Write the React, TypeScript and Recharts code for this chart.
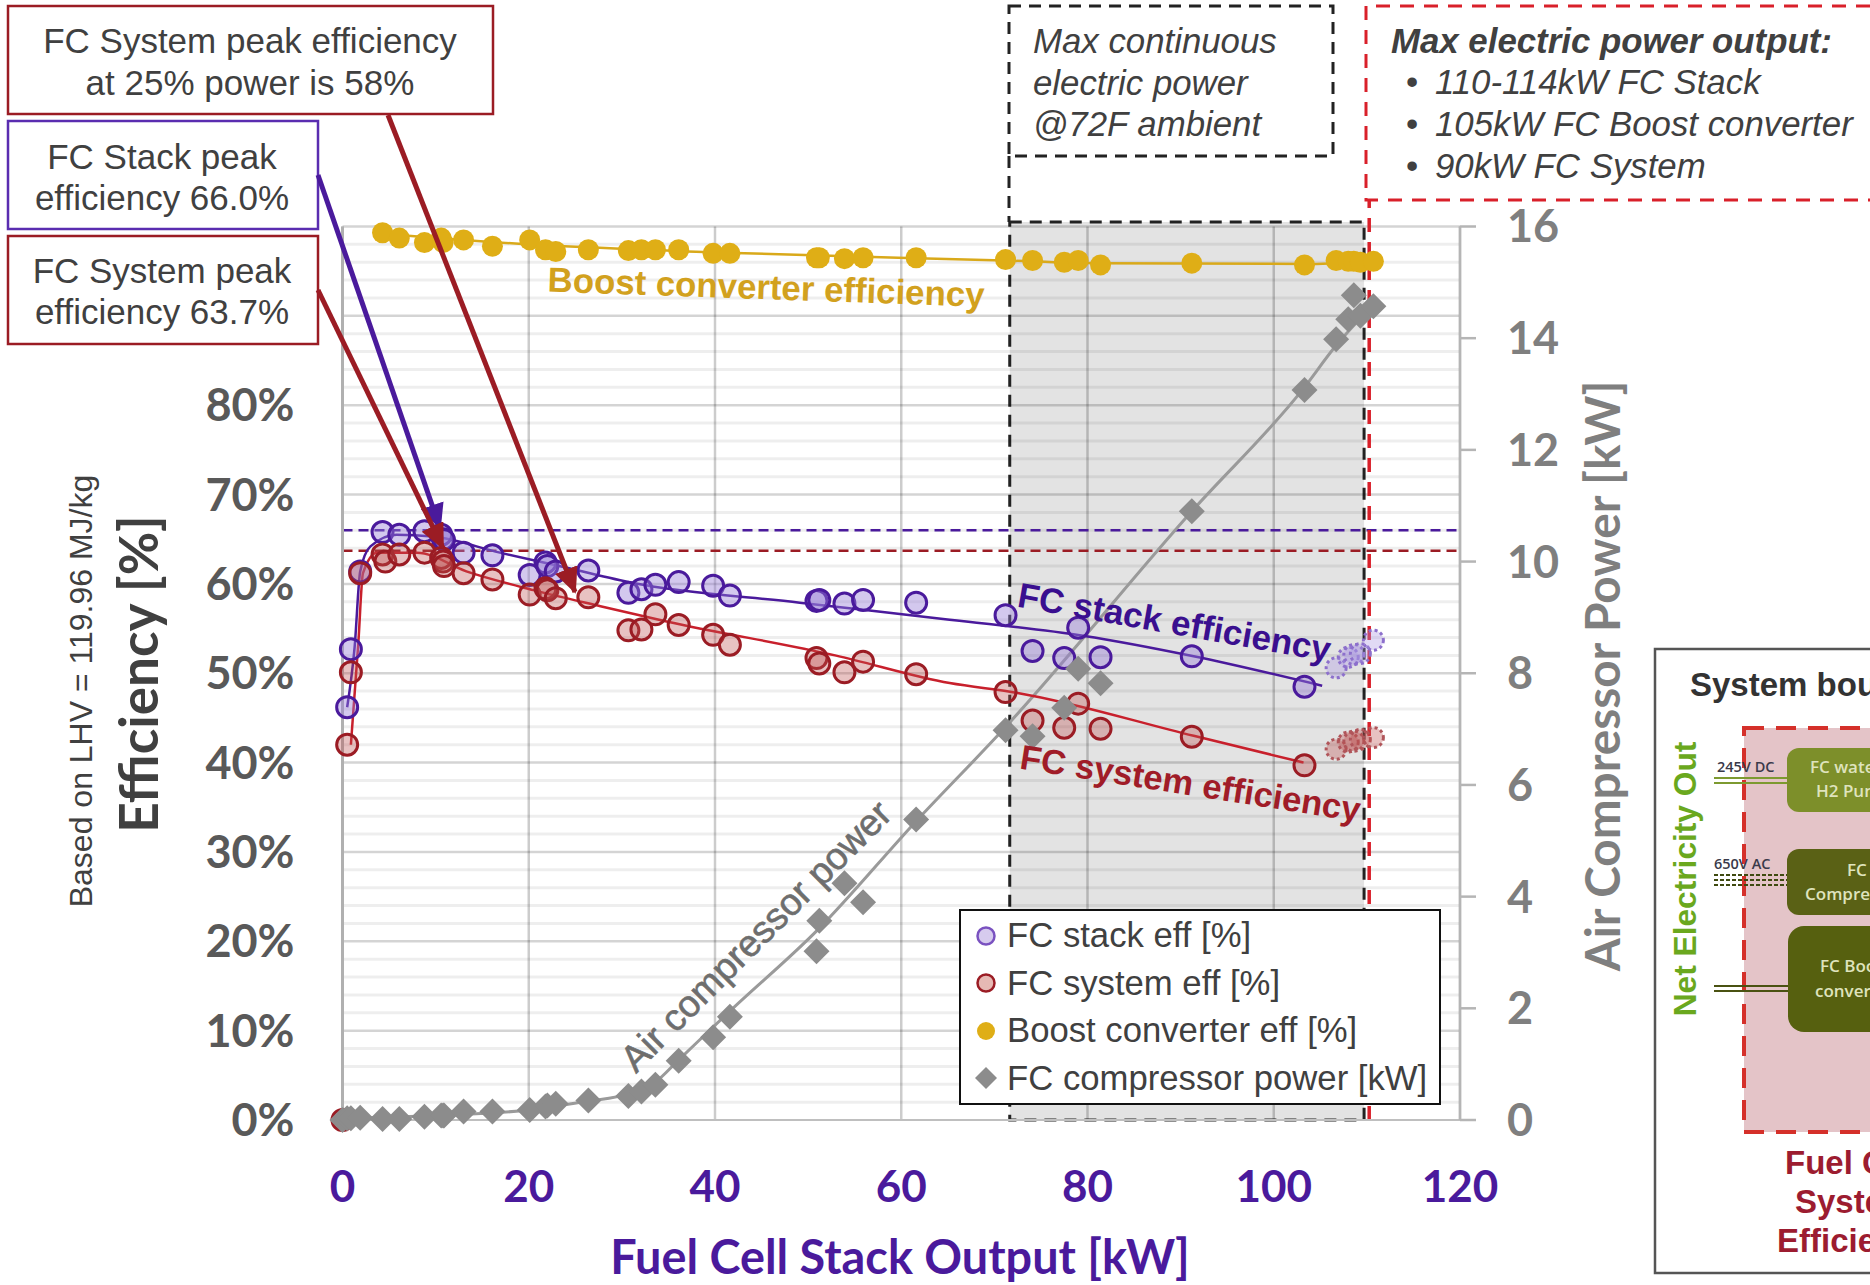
import React from 'react';
import { Legend, ReferenceArea, ReferenceLine, Scatter, ScatterChart, XAxis, YAxis } from 'recharts';

// Test points. null = no visible marker for that series
const powerKw = [0, 0.5, 0.9, 1.9, 4.3, 4.6, 6.1, 8.8, 10.6, 10.8, 10.9, 13.0, 16.1, 20.1, 21.8, 22.0, 22.9, 26.4, 30.7, 32.1, 33.6, 36.1, 39.8, 41.6, 50.9, 51.2, 53.9, 55.9, 61.6, 71.2, 74.1, 77.5, 79.0, 81.4, 91.2, 103.3];
const stackEff = [null, 46.2, 52.7, 61.4, 65.8, null, 65.5, 65.9, 65.5, 65.0, 64.9, 63.5, 63.2, 61.0, 62.4, 62.0, 61.4, 61.5, 59.0, 59.4, 59.9, 60.2, 59.8, 58.7, 58.1, 58.2, 57.8, 58.2, 57.9, 56.5, 52.5, 51.7, 55.1, 51.8, 51.9, 48.5];
const systemEff = [0, 42.0, 50.1, 61.2, 63.3, 62.5, 63.3, 63.5, 62.9, 62.5, 62.0, 61.2, 60.5, 58.8, 59.5, 59.3, 58.4, 58.5, 54.8, 54.9, 56.6, 55.4, 54.3, 53.2, 51.7, 51.1, 50.1, 51.3, 49.9, 47.9, 44.7, 43.9, 46.6, 43.8, 42.9, 39.7];
const boostEff = [null, null, null, null, 99.3, null, 98.7, 98.2, 98.7, 98.2, null, 98.5, 97.8, 98.5, 97.4, null, 97.2, 97.4, 97.3, 97.4, 97.4, 97.4, 97.0, 97.0, 96.5, 96.5, 96.4, 96.5, 96.5, 96.3, 96.2, 96.0, 96.2, 95.7, 95.9, 95.7];
const compressorPower = [0, 0.03, 0.03, 0.04, 0.02, null, 0.02, 0.06, 0.08, 0.08, 0.08, 0.15, 0.15, 0.18, 0.24, 0.26, 0.29, 0.35, 0.43, 0.51, 0.63, 1.06, 1.48, 1.85, 3.02, 3.57, 4.24, 3.9, 5.38, 6.98, 6.87, 7.38, 8.08, 7.82, 10.9, 13.07];

// Points beyond continuous power
const highKw = [106.7, 108.0, 108.6, 109.3, 110.7];
const highStackEff = [50.6, 51.8, 52.1, 52.2, 53.7];
const highSystemEff = [41.5, 42.3, 42.4, 42.6, 42.8];
const highBoostEff = [96.2, 96.1, 96.1, 96.0, 96.1];
const highCompressor = [13.98, 14.34, 14.77, 14.4, 14.57];

// Fitted trend lines
const stackTrendKw = [0.5, 1.3, 1.9, 3, 5.8, 9.7, 16.9, 24.1, 31.2, 49.1, 65.2, 79.5, 91.4, 105.2];
const stackTrendEff = [46.2, 52.9, 61.4, 64.2, 65.5, 65.3, 63.5, 61.8, 60.1, 57.9, 56, 54.2, 51.9, 48.6];
const systemTrendKw = [0.9, 1.7, 2.2, 3.7, 8, 13.3, 20.5, 27.7, 34.8, 52.9, 65.2, 72.5, 91.4, 103.2];
const systemTrendEff = [42, 53.4, 61.2, 63.5, 63.5, 61.4, 59.3, 57.5, 55.8, 52, 48.9, 47.8, 43, 40];
const boostTrendKw = [4.3, 20, 40, 71, 81, 104, 110.7];
const boostTrendEff = [99.2, 98, 97.1, 96.2, 95.9, 95.8, 96.1];
const compressorTrendKw = [0.5, 10, 20, 26, 31, 33.6, 36, 41.6, 51, 61.6, 71, 91.2, 103.2, 106.6, 110.7];
const compressorTrendPower = [0.03, 0.08, 0.18, 0.33, 0.48, 0.68, 1.06, 1.95, 3.4, 5.35, 7, 10.9, 13.1, 13.85, 14.6];

const xTicks = [0, 20, 40, 60, 80, 100, 120];
const effTicks = [0, 10, 20, 30, 40, 50, 60, 70, 80];
const effMajorLines = [10, 20, 30, 40, 50, 60, 70, 80, 90, 100];
const effMinorLines = [2, 4, 6, 8, 12, 14, 16, 18, 22, 24, 26, 28, 32, 34, 36, 38, 42, 44, 46, 48, 52, 54, 56, 58, 62, 64, 66, 68, 72, 74, 76, 78, 82, 84, 86, 88, 92, 94, 96, 98];
const compressorTicks = [0, 2, 4, 6, 8, 10, 12, 14, 16];
const legendOrder = ['FC stack eff [%]', 'FC system eff [%]', 'Boost converter eff [%]', 'FC compressor power [kW]'];

const PURPLE = '#4a1a9c';
const RED = '#9b1c24';
const GOLD = '#dfae16';
const GREY = '#8c8c8c';
const ARIAL = '"Liberation Sans", Arial, sans-serif';
const LATO = 'Lato, sans-serif';

const toPoints = (xs: number[], ys: (number | null)[]) =>
  xs.map((x, i) => ({ x, y: ys[i] })).filter((p) => p.y !== null);

const circleShape = (r: number, fill: string, stroke: string, strokeWidth = 3, dash?: string) => (props: any) => (
  <circle cx={props.cx} cy={props.cy} r={r} fill={fill} stroke={stroke} strokeWidth={strokeWidth} strokeDasharray={dash} />
);

const diamondShape = (d: number, fill: string) => (props: any) => (
  <polygon
    points={`${props.cx},${props.cy - d} ${props.cx + d},${props.cy} ${props.cx},${props.cy + d} ${props.cx - d},${props.cy}`}
    fill={fill}
  />
);

const noDot = () => <g />;

const stackDot = circleShape(10.5, 'rgba(150,125,215,0.42)', PURPLE);
const systemDot = circleShape(10.5, 'rgba(190,80,80,0.35)', RED);
const boostDot = circleShape(10.5, GOLD, 'none', 0);
const compressorDot = diamondShape(13, GREY);

const legendMarkers: Record<string, any> = {
  'FC stack eff [%]': <circle cx={12} cy={12} r={8.5} fill="#d6cbee" stroke="#7a52c0" strokeWidth={2.5} />,
  'FC system eff [%]': <circle cx={12} cy={12} r={8.5} fill="#e6b9b4" stroke={RED} strokeWidth={2.5} />,
  'Boost converter eff [%]': <circle cx={12} cy={12} r={9} fill={GOLD} />,
  'FC compressor power [kW]': <polygon points="12,1 23,12 12,23 1,12" fill={GREY} />,
};

function LegendBox() {
  return (
    <div style={{ boxSizing: 'border-box', width: 482, height: 196, background: '#fff', border: '2.5px solid #111', paddingTop: 1 }}>
      {legendOrder.map((name) => (
        <div key={name} style={{ display: 'flex', alignItems: 'center', height: 47.5, paddingLeft: 13, fontFamily: ARIAL, fontSize: 34.7, color: '#404040', whiteSpace: 'nowrap' }}>
          <svg width={24} height={24} style={{ marginRight: 9 }}>{legendMarkers[name]}</svg>
          {name}
        </div>
      ))}
    </div>
  );
}

const boxText = { fontFamily: ARIAL, fontSize: 35, fill: '#404040', textAnchor: 'middle' as const, dominantBaseline: 'middle' as const };
const noteText = { fontFamily: ARIAL, fontSize: 34.8, fill: '#404040', fontStyle: 'italic' as const, dominantBaseline: 'middle' as const };
const curveText = { fontFamily: ARIAL, fontWeight: 700, textAnchor: 'middle' as const, dominantBaseline: 'middle' as const };
const blockText = { fontFamily: 'Open Sans', fontWeight: 600, fontSize: 17, fill: '#dfe3bd', dominantBaseline: 'middle' as const };
const wireText = { fontFamily: 'Open Sans', fontWeight: 600, fontSize: 14.5, fill: '#3a3a4a', dominantBaseline: 'middle' as const };
const effBlockText = { fontFamily: ARIAL, fontWeight: 700, fontSize: 33, fill: '#9c1c30', dominantBaseline: 'middle' as const };

function Annotations() {
  return (
    <svg width={1870} height={1285} style={{ position: 'absolute', left: 0, top: 0, pointerEvents: 'none' }}>
      <defs>
        <marker id="headRed" markerUnits="userSpaceOnUse" markerWidth="26" markerHeight="30" refX="24" refY="12" orient="auto">
          <path d="M0,0 L26,12 L0,24 Z" fill={RED} />
        </marker>
        <marker id="headPurple" markerUnits="userSpaceOnUse" markerWidth="26" markerHeight="30" refX="24" refY="12" orient="auto">
          <path d="M0,0 L26,12 L0,24 Z" fill={PURPLE} />
        </marker>
      </defs>

      {/* callout boxes */}
      <rect x={8} y={6} width={485} height={108} fill="#fff" stroke={RED} strokeWidth={2.5} />
      <text x={250} y={44} {...boxText}>FC System peak efficiency</text>
      <text x={250} y={86} {...boxText}>at 25% power is 58%</text>
      <rect x={8} y={121} width={310} height={108} fill="#fff" stroke="#5a2db0" strokeWidth={2.5} />
      <text x={162} y={160} {...boxText}>FC Stack peak</text>
      <text x={162} y={201} {...boxText}>efficiency 66.0%</text>
      <rect x={8} y={236} width={310} height={108} fill="#fff" stroke={RED} strokeWidth={2.5} />
      <text x={162} y={274} {...boxText}>FC System peak</text>
      <text x={162} y={315} {...boxText}>efficiency 63.7%</text>

      <line x1={388} y1={115} x2={575} y2={592} stroke={RED} strokeWidth={5} markerEnd="url(#headRed)" />
      <line x1={318} y1={175} x2={440} y2={528} stroke={PURPLE} strokeWidth={5} markerEnd="url(#headPurple)" />
      <line x1={318} y1={290} x2={443} y2={548} stroke={RED} strokeWidth={5} markerEnd="url(#headRed)" />

      {/* limit notes */}
      <rect x={1009} y={6} width={324} height={150} fill="none" stroke="#222" strokeWidth={3} strokeDasharray="12 8" />
      <line x1={1009} y1={156} x2={1009} y2={222} stroke="#222" strokeWidth={3} strokeDasharray="12 8" />
      <text x={1033} y={44} {...noteText}>Max continuous</text>
      <text x={1033} y={86} {...noteText}>electric power</text>
      <text x={1033} y={127} {...noteText}>@72F ambient</text>

      <path d="M1870,6 L1366,6 L1366,200 L1870,200" fill="none" stroke="#d9202a" strokeWidth={3} strokeDasharray="14 10" />
      <text x={1391} y={44} {...noteText} fontWeight={700}>Max electric power output:</text>
      {['110-114kW FC Stack', '105kW FC Boost converter', '90kW FC System'].map((t, i) => (
        <g key={t}>
          <text x={1406} y={85 + i * 41.7} {...noteText} fontStyle="normal">•</text>
          <text x={1435} y={85 + i * 41.7} {...noteText}>{t}</text>
        </g>
      ))}

      {/* curve labels */}
      <text transform="translate(766,290) rotate(2)" {...curveText} fontSize={34.8} fill="#d2a11e">Boost converter efficiency</text>
      <text transform="translate(1174,625) rotate(10)" {...curveText} fontSize={35} fill="#3a0f8f">FC stack efficiency</text>
      <text transform="translate(1190,786) rotate(8.9)" {...curveText} fontSize={34.6} fill="#a01c28">FC system efficiency</text>
      <text transform="translate(758,938) rotate(-45)" {...curveText} fontWeight={400} fontSize={37.5} fill="#6e6e6e" stroke="#6e6e6e" strokeWidth={0.6}>Air compressor power</text>

      {/* axis titles */}
      <text x={900} y={1262} fontFamily={LATO} fontWeight={700} fontSize={46.8} fill={PURPLE} textAnchor="middle" dominantBaseline="middle">Fuel Cell Stack Output [kW]</text>
      <text transform="translate(144,674) rotate(-90)" fontFamily={LATO} fontWeight={700} fontSize={53} fill="#404040" textAnchor="middle" dominantBaseline="middle">Efficiency [%]</text>
      <text transform="translate(84,691) rotate(-90)" fontFamily={ARIAL} fontSize={32} fill="#404040" textAnchor="middle" dominantBaseline="middle">Based on LHV = 119.96 MJ/kg</text>
      <text transform="translate(1608,676) rotate(-90)" fontFamily={LATO} fontWeight={700} fontSize={47.7} fill="#7f7f7f" textAnchor="middle" dominantBaseline="middle">Air Compressor Power [kW]</text>

      {/* system boundary panel, cut by the image edge */}
      <rect x={1655} y={649} width={240} height={624} fill="#fff" stroke="#555" strokeWidth={2.5} />
      <text x={1690} y={687} fontFamily={ARIAL} fontWeight={700} fontSize={33} fill="#333" dominantBaseline="middle">System boundary</text>
      <rect x={1744} y={728} width={160} height={404} fill="#e4c4c8" stroke="#d5302a" strokeWidth={4} strokeDasharray="20 12" />
      <text transform="translate(1688,879) rotate(-90)" fontFamily={ARIAL} fontWeight={700} fontSize={31.7} fill="#6aa81e" textAnchor="middle" dominantBaseline="middle">Net Electricity Out</text>

      <rect x={1787} y={748} width={120} height={64} rx={12} fill="#7d8f2a" />
      <text x={1810} y={768} {...blockText}>FC water &amp;</text>
      <text x={1816} y={792} {...blockText}>H2 Pump</text>
      <rect x={1787} y={849} width={120} height={66} rx={12} fill="#5a6115" />
      <text x={1847} y={871} {...blockText}>FC Air</text>
      <text x={1805} y={895} {...blockText}>Compressor</text>
      <rect x={1788} y={926} width={120} height={106} rx={16} fill="#56600f" />
      <text x={1820} y={967} {...blockText}>FC Boost</text>
      <text x={1815} y={992} {...blockText}>converter</text>

      <text x={1717} y={768} {...wireText}>245V DC</text>
      <line x1={1714} y1={778} x2={1787} y2={778} stroke="#7d9a30" strokeWidth={2} />
      <line x1={1714} y1={783} x2={1787} y2={783} stroke="#7d9a30" strokeWidth={2} />
      <text x={1714} y={865} {...wireText}>650V AC</text>
      <line x1={1714} y1={875} x2={1787} y2={875} stroke="#3f4a10" strokeWidth={2} strokeDasharray="4 2" />
      <line x1={1714} y1={880} x2={1787} y2={880} stroke="#3f4a10" strokeWidth={2} strokeDasharray="4 2" />
      <line x1={1714} y1={885} x2={1787} y2={885} stroke="#3f4a10" strokeWidth={2} strokeDasharray="4 2" />
      <line x1={1714} y1={986} x2={1788} y2={986} stroke="#4a5212" strokeWidth={2} />
      <line x1={1714} y1={991} x2={1788} y2={991} stroke="#4a5212" strokeWidth={2} />

      <text x={1785} y={1165} {...effBlockText}>Fuel Cell</text>
      <text x={1795} y={1204} {...effBlockText}>System</text>
      <text x={1777} y={1243} {...effBlockText}>Efficiency</text>
    </svg>
  );
}

const trendProps = (color: string, width: number) => ({
  line: { stroke: color, strokeWidth: width },
  lineType: 'joint' as const,
  lineJointType: 'monotoneX' as const,
  shape: noDot,
  legendType: 'none' as const,
  isAnimationActive: false,
});

export default function App() {
  return (
    <div style={{ position: 'absolute', left: 0, top: 0, width: 1870, height: 1285, overflow: 'hidden', background: '#fff' }}>
      <ScatterChart width={1870} height={1285} margin={{ top: 226.5, right: 350, bottom: 105, left: 262.5 }}>
        <XAxis
          type="number"
          dataKey="x"
          domain={[0, 120]}
          ticks={xTicks}
          height={60}
          axisLine={{ stroke: '#bfbfbf', strokeWidth: 2 }}
          tickLine={false}
          tickMargin={45}
          tick={{ fontFamily: LATO, fontSize: 44, fontWeight: 700, fill: PURPLE }}
        />
        <YAxis
          yAxisId="eff"
          type="number"
          dataKey="y"
          domain={[0, 100]}
          ticks={effTicks}
          width={80}
          axisLine={{ stroke: '#b0b0b0', strokeWidth: 3 }}
          tickLine={false}
          tickMargin={42}
          tickFormatter={(v) => `${v}%`}
          tick={{ fontFamily: LATO, fontSize: 45, fontWeight: 700, fill: '#595959' }}
        />
        <YAxis
          yAxisId="comp"
          orientation="right"
          type="number"
          dataKey="y"
          domain={[0, 16]}
          ticks={compressorTicks}
          width={60}
          axisLine={{ stroke: '#b5b5b5', strokeWidth: 2.5 }}
          tickLine={{ stroke: '#b5b5b5', strokeWidth: 2.5 }}
          tickSize={16}
          tickMargin={31}
          tick={{ fontFamily: LATO, fontSize: 45, fontWeight: 700, fill: '#7f7f7f' }}
        />

        <ReferenceArea yAxisId="eff" x1={71.65} x2={109.7} y1={0} y2={100.5} ifOverflow="visible" fill="#e3e3e3" fillOpacity={1} stroke="#222" strokeWidth={3} strokeDasharray="12 8" />
        {effMinorLines.map((v) => (
          <ReferenceLine key={v} yAxisId="eff" y={v} stroke="rgba(0,0,0,0.065)" strokeWidth={3} />
        ))}
        {effMajorLines.map((v) => (
          <ReferenceLine key={v} yAxisId="eff" y={v} stroke="rgba(0,0,0,0.17)" strokeWidth={2.5} />
        ))}
        {xTicks.map((v) => (
          <ReferenceLine key={v} yAxisId="eff" x={v} stroke="rgba(0,0,0,0.2)" strokeWidth={2.5} />
        ))}
        <ReferenceLine yAxisId="eff" y={66} stroke={PURPLE} strokeWidth={2.5} strokeDasharray="10 6" />
        <ReferenceLine yAxisId="eff" y={63.7} stroke={RED} strokeWidth={2.5} strokeDasharray="10 6" />
        <ReferenceLine
          yAxisId="eff"
          segment={[{ x: 110.25, y: 0 }, { x: 110.25, y: 103 }]}
          ifOverflow="visible"
          stroke="#d9202a"
          strokeWidth={3.5}
          strokeDasharray="14 10"
        />

        <Scatter yAxisId="eff" data={toPoints(boostTrendKw, boostTrendEff)} {...trendProps('#d9a91a', 2.5)} />
        <Scatter yAxisId="comp" data={toPoints(compressorTrendKw, compressorTrendPower)} {...trendProps('#9a9a9a', 3)} />
        <Scatter yAxisId="eff" data={toPoints(stackTrendKw, stackTrendEff)} {...trendProps(PURPLE, 2.5)} />
        <Scatter yAxisId="eff" data={toPoints(systemTrendKw, systemTrendEff)} {...trendProps('#c8202c', 2.5)} />

        <Scatter yAxisId="eff" name="FC stack eff [%]" data={toPoints(powerKw, stackEff)} shape={stackDot} isAnimationActive={false} />
        <Scatter yAxisId="eff" name="FC system eff [%]" data={toPoints(powerKw, systemEff)} shape={systemDot} isAnimationActive={false} />
        <Scatter yAxisId="eff" name="Boost converter eff [%]" data={toPoints(powerKw, boostEff)} shape={boostDot} isAnimationActive={false} />
        <Scatter yAxisId="comp" name="FC compressor power [kW]" data={toPoints(powerKw, compressorPower)} shape={compressorDot} isAnimationActive={false} />

        <Scatter yAxisId="eff" data={toPoints(highKw, highStackEff)} shape={circleShape(10, 'rgba(170,150,225,0.35)', '#8d70cc', 3, '3 3')} legendType="none" isAnimationActive={false} />
        <Scatter yAxisId="eff" data={toPoints(highKw, highSystemEff)} shape={circleShape(10, 'rgba(190,80,80,0.35)', '#b0555a', 3, '3 3')} legendType="none" isAnimationActive={false} />
        <Scatter yAxisId="eff" data={toPoints(highKw, highBoostEff)} shape={boostDot} legendType="none" isAnimationActive={false} />
        <Scatter yAxisId="comp" data={toPoints(highKw, highCompressor)} shape={compressorDot} legendType="none" isAnimationActive={false} />

        <Legend
          layout="vertical"
          align="center"
          verticalAlign="middle"
          content={LegendBox}
          wrapperStyle={{ left: 959, top: 909, width: 482, height: 196 }}
        />
      </ScatterChart>
      <Annotations />
    </div>
  );
}
